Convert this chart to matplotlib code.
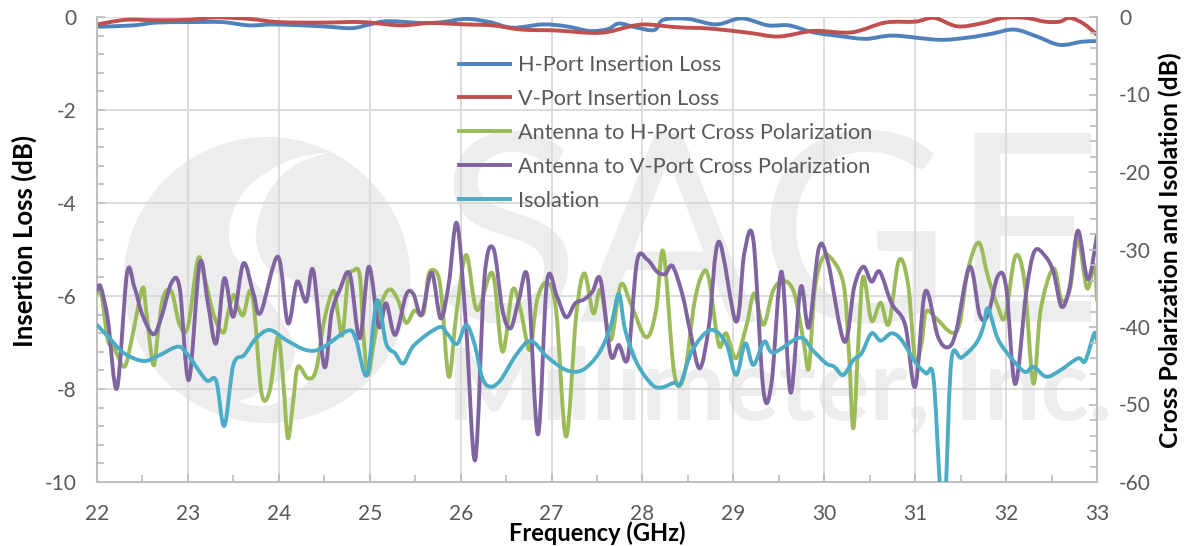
import matplotlib
matplotlib.use('Agg')
import numpy as np
import matplotlib.pyplot as plt
from matplotlib.lines import Line2D
from matplotlib.patches import Ellipse, PathPatch
from matplotlib.path import Path
from matplotlib.ticker import MultipleLocator

plt.rcParams['font.family'] = ['Lato', 'DejaVu Sans']
plt.rcParams['axes.unicode_minus'] = False

h_il_f = [22, 22.4, 22.65, 23, 23.38, 23.67, 23.96, 24.47, 24.8, 25, 25.2, 25.58, 25.8, 26.06,
          26.32, 26.57, 26.9, 27.16, 27.42, 27.62, 27.74, 27.92, 28.13, 28.23, 28.5, 28.81,
          29.09, 29.38, 29.61, 29.88, 30.17, 30.46, 30.76, 31.26, 31.59, 31.84, 32.09, 32.34,
          32.59, 32.84, 33]
h_il = [-0.21, -0.18, -0.12, -0.11, -0.11, -0.18, -0.16, -0.2, -0.24, -0.16, -0.09, -0.13,
        -0.11, -0.04, -0.11, -0.23, -0.16, -0.2, -0.3, -0.26, -0.14, -0.22, -0.28, -0.06,
        -0.04, -0.16, -0.03, -0.18, -0.18, -0.33, -0.41, -0.47, -0.4, -0.49, -0.44, -0.36,
        -0.27, -0.42, -0.6, -0.53, -0.52]

v_il_f = [22, 22.32, 22.65, 23, 23.3, 23.67, 24, 24.47, 24.92, 25.34, 25.66, 26.06, 26.35,
          26.67, 27.05, 27.42, 27.62, 27.87, 28.04, 28.38, 28.75, 29.17, 29.5, 29.88, 30.3,
          30.67, 31, 31.21, 31.46, 31.72, 31.97, 32.22, 32.43, 32.59, 32.7, 32.85, 33]
v_il = [-0.16, -0.06, -0.07, -0.06, -0.01, -0.04, -0.11, -0.12, -0.11, -0.18, -0.13, -0.16,
        -0.18, -0.27, -0.29, -0.34, -0.32, -0.2, -0.16, -0.22, -0.25, -0.34, -0.42, -0.3,
        -0.33, -0.12, -0.1, -0.02, -0.2, -0.14, -0.02, -0.02, -0.1, -0.1, -0.02, -0.14, -0.38]

h_xp_f = [22, 22.05, 22.12, 22.19, 22.3, 22.38, 22.5, 22.54, 22.62, 22.67, 22.73, 22.82, 22.91,
          23, 23.11, 23.18, 23.29, 23.39, 23.44, 23.5, 23.55, 23.61, 23.68, 23.73, 23.81, 23.9,
          23.99, 24.05, 24.1, 24.16, 24.21, 24.32, 24.41, 24.5, 24.6, 24.65, 24.7, 24.76, 24.82,
          24.89, 24.93, 24.98, 25.05, 25.13, 25.22, 25.31, 25.4, 25.49, 25.59, 25.65, 25.74,
          25.79, 25.87, 25.95, 26.06, 26.18, 26.35, 26.46, 26.57, 26.66, 26.76, 26.84, 26.95,
          27.05, 27.16, 27.27, 27.36, 27.46, 27.54, 27.65, 27.76, 27.87, 28.04, 28.15, 28.23,
          28.35, 28.46, 28.57, 28.66, 28.73, 28.84, 28.92, 29.03, 29.15, 29.23, 29.33, 29.44,
          29.56, 29.67, 29.77, 29.83, 29.89, 29.97, 30.06, 30.21, 30.27, 30.32, 30.38, 30.43,
          30.52, 30.62, 30.71, 30.82, 30.92, 31, 31.07, 31.12, 31.23, 31.4, 31.49, 31.58, 31.7,
          31.8, 31.91, 31.99, 32.1, 32.2, 32.3, 32.38, 32.52, 32.61, 32.7, 32.79, 32.89, 32.97,
          33]
h_xp = [-35.66, -35.87, -41.68, -42.75, -45.12, -41.68, -35.01, -37.81, -44.9, -40.82, -36.09,
        -35.44, -39.74, -39.96, -31.27, -33.5, -38.67, -40.73, -38.24, -35.87, -37.38, -38.45,
        -35.31, -37.81, -48.56, -48.21, -41.25, -47.27, -54.36, -49.42, -45.12, -46.62, -45.55,
        -39.1, -35.31, -38.24, -41.03, -33.94, -32.73, -33.29, -40.82, -46.19, -41.68, -36.95,
        -35.14, -36.52, -39.44, -37.89, -38.24, -33.16, -33.08, -36.09, -46.41, -38.67, -30.71,
        -37.81, -33.08, -43.18, -35.23, -37.81, -42.97, -36.52, -34.28, -37.81, -54.15, -38.67,
        -33.08, -38.24, -35.23, -41.68, -34.58, -36.95, -41.33, -37.81, -30.28, -45.98, -46.19,
        -36.95, -33.16, -33.72, -42.32, -40.82, -44.04, -39.53, -35.66, -39.74, -35.23, -34.07,
        -35.66, -41.68, -45.33, -35.66, -31.36, -30.93, -34.37, -42.97, -53.07, -40.82, -33.5,
        -39.18, -36.86, -39.61, -31.44, -34.37, -44.26, -42.11, -38.02, -38.88, -40.73, -39.53,
        -32.65, -29.12, -33.5, -37.38, -38.67, -30.93, -33.94, -47.27, -37.81, -32.43, -36.52,
        -35.23, -28.78, -35.01, -32, -36.52]

v_xp_f = [22, 22.04, 22.12, 22.22, 22.33, 22.41, 22.5, 22.62, 22.71, 22.82, 22.91, 23.01, 23.13,
          23.22, 23.31, 23.4, 23.5, 23.61, 23.72, 23.8, 23.99, 24.1, 24.2, 24.3, 24.38, 24.5,
          24.58, 24.67, 24.78, 24.89, 24.99, 25.1, 25.18, 25.28, 25.4, 25.48, 25.57, 25.68,
          25.78, 25.87, 25.96, 26.06, 26.16, 26.26, 26.36, 26.46, 26.55, 26.64, 26.74, 26.85,
          26.95, 27.06, 27.16, 27.26, 27.36, 27.45, 27.54, 27.65, 27.74, 27.84, 27.94, 28.05,
          28.16, 28.25, 28.33, 28.44, 28.53, 28.63, 28.73, 28.84, 29.03, 29.12, 29.22, 29.33,
          29.42, 29.53, 29.63, 29.74, 29.83, 29.94, 30.04, 30.22, 30.33, 30.43, 30.52, 30.61,
          30.74, 30.89, 31, 31.11, 31.25, 31.36, 31.45, 31.6, 31.71, 31.8, 31.91, 32, 32.1, 32.22,
          32.31, 32.42, 32.52, 32.61, 32.7, 32.79, 32.9, 33]
v_xp = [-35.23, -34.8, -39.1, -47.91, -33.08, -34.8, -38.45, -40.95, -38.67, -34.28, -35.01,
        -46.84, -31.79, -36.95, -42.11, -33.72, -38.67, -31.79, -35.66, -38.15, -30.93, -39.53,
        -34.15, -36.73, -32.73, -45.12, -38.24, -35.23, -33.16, -41.46, -32.22, -39.96, -36.95,
        -41.03, -35.87, -35.74, -38.45, -32.99, -38.88, -34.37, -26.63, -39.96, -57.16, -33.94,
        -29.85, -37.81, -40.17, -36.52, -33.85, -53.85, -34.15, -36.09, -38.75, -36.95, -36.43,
        -35.44, -33.94, -43.61, -42.32, -43.96, -31.57, -31.27, -32.86, -33.16, -32.13, -35.87,
        -40.82, -45.33, -39.96, -28.99, -39.31, -30.5, -28.8, -48.13, -47.18, -32.86, -48.47,
        -34.88, -40.04, -29.85, -31.57, -41.89, -34.8, -32.22, -34.15, -32.86, -36.95, -39.74,
        -47.7, -35.44, -41.25, -42.62, -40.6, -32.22, -38.45, -38.45, -33.42, -34.8, -47.35,
        -35.66, -30.28, -30.71, -32.86, -37.38, -34.8, -27.57, -33.85, -28.13]

iso_f = [22, 22.14, 22.3, 22.51, 22.67, 22.89, 23, 23.2, 23.31, 23.4, 23.5, 23.62, 23.75, 23.9,
         24.08, 24.3, 24.47, 24.76, 24.85, 24.97, 25.08, 25.18, 25.28, 25.37, 25.49, 25.76,
         25.85, 25.96, 26.06, 26.15, 26.24, 26.33, 26.44, 26.61, 26.77, 26.95, 27.16, 27.34,
         27.52, 27.65, 27.74, 27.81, 27.94, 28.11, 28.22, 28.35, 28.42, 28.55, 28.75, 28.92,
         29.03, 29.13, 29.22, 29.34, 29.44, 29.73, 29.87, 30.02, 30.11, 30.21, 30.32, 30.41,
         30.52, 30.62, 30.74, 30.85, 31.01, 31.12, 31.2, 31.27, 31.31, 31.34, 31.4, 31.51, 31.67,
         31.75, 31.8, 31.9, 32, 32.2, 32.3, 32.44, 32.59, 32.79, 32.87, 32.97, 33]
iso = [-39.74, -41.46, -43.4, -44.39, -43.74, -42.54, -43.61, -46.84, -46.92, -52.77, -44.9,
       -43.61, -41.46, -40.39, -41.68, -42.97, -42.75, -40.47, -41.68, -46.19, -36.6, -42.11,
       -43.4, -44.69, -42.32, -40.04, -40.82, -42.19, -39.74, -42.11, -46.62, -47.7, -46.84,
       -43.61, -41.81, -43.83, -45.55, -45.55, -43.4, -39.96, -35.74, -40.39, -44.69, -47.48,
       -47.78, -47.18, -47.27, -42.97, -40.39, -42.11, -46.19, -42.11, -44.9, -41.89, -43.31,
       -41.38, -42.97, -44.69, -45.12, -46.19, -44.26, -43.4, -40.82, -41.76, -40.82, -41.68,
       -44.69, -45.98, -46.49, -60.17, -66.7, -60.17, -44.17, -43.96, -42.11, -39.96, -37.59,
       -41.25, -43.18, -45.76, -45.12, -46.41, -45.63, -44.04, -44.39, -40.82, -41.8]

labels = ['H-Port Insertion Loss', 'V-Port Insertion Loss',
          'Antenna to H-Port Cross Polarization', 'Antenna to V-Port Cross Polarization',
          'Isolation']
colors = ['#4F81BD', '#C0504D', '#9BBB59', '#8064A2', '#4BACC6']
txt_col = '#595959'
wm_col = '#ededed'
lw = 2.8


def smooth_path(x, y):
    # same kind of bezier smoothing excel uses for "smoothed line"
    pts = np.column_stack([x, y])
    prev = np.vstack([pts[0], pts[:-1]])
    nxt = np.vstack([pts[1:], pts[-1]])
    tang = (nxt - prev) / 6
    verts = [pts[0]]
    codes = [Path.MOVETO]
    for i in range(len(pts) - 1):
        verts += [pts[i] + tang[i], pts[i + 1] - tang[i + 1], pts[i + 1]]
        codes += [Path.CURVE4] * 3
    return Path(verts, codes)


def smooth_line(ax, x, y, color):
    ax.add_patch(PathPatch(smooth_path(x, y), fill=False, edgecolor=color, lw=lw,
                           capstyle='round', joinstyle='round'))


fig = plt.figure(figsize=(11.85, 5.46), dpi=100)

# watermark sits behind everything, in picture pixels
bg = fig.add_axes([0, 0, 1, 1], zorder=0)
bg.set_xlim(0, 1185)
bg.set_ylim(546, 0)
bg.axis('off')
bg.add_patch(Ellipse((267, 280), 287, 286, color=wm_col, lw=0))
swoosh_x = [330, 290, 250, 232, 230, 245, 265, 285, 295, 285, 255, 240,
            270, 305, 322, 320, 300, 270, 258, 257, 270, 295, 330]
swoosh_y = [152, 160, 185, 215, 245, 270, 295, 325, 350, 375, 395, 402,
            405, 385, 350, 315, 285, 270, 250, 225, 190, 165, 152]
bg.add_patch(PathPatch(smooth_path(swoosh_x, swoosh_y), facecolor='white', lw=0))
bg.text(770, 322, 'SAGE', fontsize=190, color=wm_col, ha='center', va='baseline')
bg.text(780, 420, 'Millimeter, Inc.', fontsize=72, fontweight='bold', color=wm_col,
        ha='center', va='baseline')

ax = fig.add_axes([97 / 1185, 1 - 482 / 546, 1000 / 1185, 465 / 546], zorder=1)
ax.patch.set_alpha(0)
ax.set_xlim(22, 33)
ax.set_ylim(-10, 0)
ax.xaxis.set_major_locator(MultipleLocator(1))
ax.xaxis.set_minor_locator(MultipleLocator(0.5))
ax.yaxis.set_major_locator(MultipleLocator(2))
ax.yaxis.set_minor_locator(MultipleLocator(0.4))
ax.grid(True, which='major', color='#d9d9d9', lw=1.3)
ax.set_axisbelow(True)
ax.tick_params(which='major', length=6, width=1.3, color='#bfbfbf', direction='in',
               labelsize=15, labelcolor=txt_col)
ax.tick_params(which='minor', length=5, width=1.3, color='#bfbfbf', direction='in')
ax.tick_params(axis='x', which='major', pad=16)
ax.tick_params(axis='y', which='major', pad=15)
for s in ax.spines.values():
    s.set_visible(False)
ax.spines['left'].set_visible(True)
ax.spines['bottom'].set_visible(True)
ax.spines['left'].set_color('#bfbfbf')
ax.spines['bottom'].set_color('#bfbfbf')
ax.spines['left'].set_linewidth(1.5)
ax.spines['bottom'].set_linewidth(1.5)

ax2 = ax.twinx()
ax2.set_zorder(2)
ax2.patch.set_alpha(0)
ax2.set_ylim(-60, 0)
ax2.yaxis.set_major_locator(MultipleLocator(10))
ax2.yaxis.set_minor_locator(MultipleLocator(2))
ax2.tick_params(which='major', length=6, width=1.3, color='#bfbfbf', direction='in',
                labelsize=15, labelcolor=txt_col, pad=16)
ax2.tick_params(which='minor', length=5, width=1.3, color='#bfbfbf', direction='in')
for s in ax2.spines.values():
    s.set_visible(False)
ax2.spines['right'].set_visible(True)
ax2.spines['right'].set_color('#bfbfbf')
ax2.spines['right'].set_linewidth(1.5)

smooth_line(ax, h_il_f, h_il, colors[0])
smooth_line(ax, v_il_f, v_il, colors[1])
smooth_line(ax2, h_xp_f, h_xp, colors[2])
smooth_line(ax2, v_xp_f, v_xp, colors[3])
smooth_line(ax2, iso_f, iso, colors[4])

handles = [Line2D([], [], color=c, lw=lw) for c in colors]
leg = ax2.legend(handles, labels, loc='upper left', bbox_to_anchor=(0.362, 0.918), frameon=False,
                 fontsize=15.6, handlelength=2.37, handletextpad=0.37, labelspacing=0.64,
                 borderaxespad=0, borderpad=0, labelcolor=txt_col)

fig.text(24 / 1185, 1 - 241 / 546, 'Insertion Loss (dB)', rotation=90, fontsize=18.5,
         fontweight='bold', ha='center', va='center', color='black')
fig.text(597 / 1185, 1 - 533 / 546, 'Frequency (GHz)', fontsize=17, fontweight='bold',
         ha='center', va='center', color='black')
fig.text(1170 / 1185, 1 - 250 / 546, 'Cross Polarization and Isolation (dB)', rotation=90,
         fontsize=17.8, fontweight='bold', ha='center', va='center', color='black')

fig.savefig('out.png', dpi=100)
